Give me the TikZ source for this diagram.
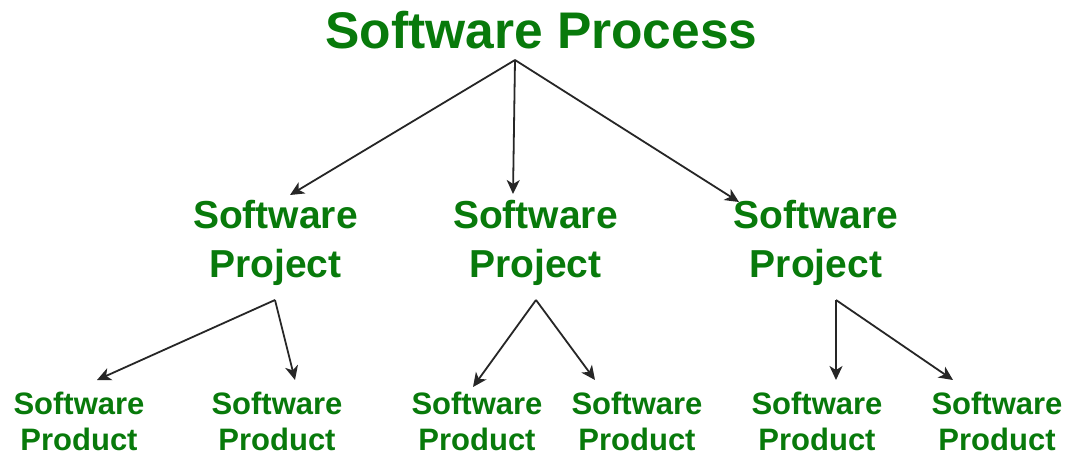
\documentclass[tikz,border=0pt]{standalone}
\usepackage{fontspec}
\setmainfont{Liberation Sans}
\usetikzlibrary{arrows.meta}
\definecolor{gfg}{HTML}{087A0B}
\begin{document}
\begin{tikzpicture}[x=1pt,y=-1pt,
  lbl/.style={text=gfg, inner sep=0pt, align=center},
  big/.style={lbl, font=\fontsize{51.5}{60}\selectfont\bfseries},
  mid/.style={lbl, font=\fontsize{39}{49}\selectfont\bfseries},
  small/.style={lbl, font=\fontsize{31}{36}\selectfont\bfseries},
  arr/.style={-{Stealth[length=14pt,width=13pt,inset=4pt]}, line width=1.8pt, draw=black!85}]
\useasboundingbox (0,0) rectangle (1068,455);
\fill[white] (0,0) rectangle (1068,455);

% labels (base anchor = baseline of the last line)
\node[big, anchor=base] (proc) at (541.5,48) {Software Process};

\node[mid, anchor=base] (p1) at (275.5,277) {Software\\Project};
\node[mid, anchor=base] (p2) at (535.5,277) {Software\\Project};
\node[mid, anchor=base] (p3) at (816,277) {Software\\Project};

\node[small, anchor=base] (d1) at (79,450) {Software\\Product};
\node[small, anchor=base] (d2) at (277,450) {Software\\Product};
\node[small, anchor=base] (d3) at (477,450) {Software\\Product};
\node[small, anchor=base] (d4) at (637,450) {Software\\Product};
\node[small, anchor=base] (d5) at (817,450) {Software\\Product};
\node[small, anchor=base] (d6) at (997,450) {Software\\Product};

% connector end points
\coordinate (a0) at (515,60);
\coordinate (t1) at (290,195);
\coordinate (t2) at (513,194);
\coordinate (t3) at (739,202);

\coordinate (a1) at (275,300);
\coordinate (a2) at (536,300);
\coordinate (a3) at (836,300);
\coordinate (u1) at (97,380);
\coordinate (u2) at (295,380);
\coordinate (u3) at (473,387);
\coordinate (u4) at (595,380);
\coordinate (u5) at (836,380);
\coordinate (u6) at (953,380);

% connectors
\draw[arr] (a0) -- (t1);
\draw[arr] (a0) -- (t2);
\draw[arr] (a0) -- (t3);

\draw[arr] (a1) -- (u1);
\draw[arr] (a1) -- (u2);
\draw[arr] (a2) -- (u3);
\draw[arr] (a2) -- (u4);
\draw[arr] (a3) -- (u5);
\draw[arr] (a3) -- (u6);
\end{tikzpicture}
\end{document}
